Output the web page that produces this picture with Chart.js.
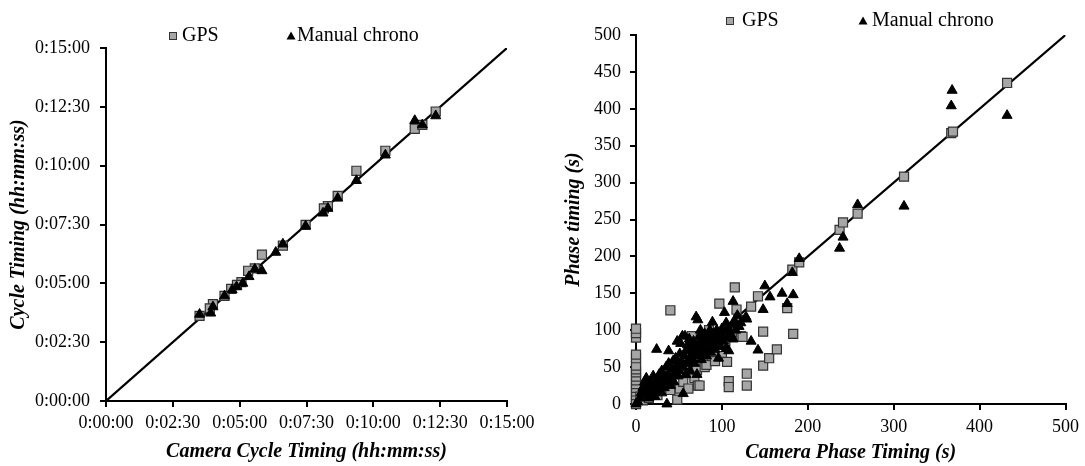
<!DOCTYPE html>
<html lang="en">
<head>
<meta charset="UTF-8">
<title>Cycle and phase timing</title>
<script src="https://cdn.jsdelivr.net/npm/chart.js"></script>
<style>
  body { margin: 0; background: #fff; }
  .box { position: absolute; top: 0; height: 466px; }
  #leftBox { left: 0; width: 540px; }
  #rightBox { left: 540px; width: 545px; }
</style>
</head>
<body>
<div class="box" id="leftBox"><canvas id="cycleChart"></canvas></div>
<div class="box" id="rightBox"><canvas id="phaseChart"></canvas></div>

<script>
// cycle timing, seconds [camera, measured]
const cycleGps = [[740,738],[693,694],[710,704],[627,638],[562,587],[520,523],[498,497],[489,491],
  [448,449],[397,396],[350,373],[334,338],[319,332],[304,303],[294,296],[281,286],[266,268],
  [240,247],[233,236],[210,217]];
const cycleChrono = [[740,727],[693,715],[710,704],[627,627],[562,562],[520,517],[498,491],[487,479],
  [448,446],[397,400],[381,379],[350,332],[334,336],[321,317],[307,300],[293,291],[283,283],
  [266,268],[240,240],[235,224],[210,221]];
const cycleTicks = [0, 150, 300, 450, 600, 750, 900];

// phase timing, seconds [camera, measured]
const phaseGps = [[0,0],[0,3],[0,6],[0,12],[0,17],[0,22],[0,27],[0,32],[0,37],[0,43],[0,47],[0,52],
  [0,62],[0,67],[0,90],[0,96],[0,102],[5,10],[8,5],[12,15],[15,8],[20,25],[25,12],[30,35],[35,20],
  [40,127],[40,19],[45,40],[48,6],[49,44],[51,21],[55,30],[58,52],[61,42],[61,21],[65,92],[68,35],
  [71,46],[72,25],[74,25],[75,60],[78,85],[80,50],[82,53],[85,100],[88,65],[90,70],[92,58],[95,80],
  [97,136],[98,88],[100,65],[104,85],[106,57],[108,31],[108,23],[110,101],[112,92],[115,158],
  [117,128],[119,114],[122,92],[124,91],[129,41],[129,25],[134,132],[142,146],[148,98],[148,52],
  [155,62],[164,74],[176,130],[182,182],[183,95],[190,192],[237,236],[241,246],[258,258],[312,308],
  [367,367],[369,369],[432,435]];
const phaseChrono = [[0,0],[2,3],[5,8],[6,15],[8,22],[10,18],[10,30],[12,12],[12,35],[14,25],[15,8],
  [16,20],[18,30],[18,14],[20,38],[20,22],[22,10],[22,28],[24,74],[25,34],[26,18],[27,40],[28,26],
  [30,45],[30,15],[32,35],[33,22],[35,50],[35,30],[36,0],[37,40],[38,72],[38,55],[40,25],[40,35],
  [42,48],[43,58],[44,30],[45,42],[46,62],[48,85],[48,52],[49,38],[50,45],[51,68],[52,82],[53,58],
  [54,92],[55,50],[55,14],[56,65],[57,92],[58,72],[58,40],[60,55],[60,80],[62,62],[62,88],[63,45],
  [64,72],[65,78],[66,60],[67,85],[68,55],[68,68],[70,118],[70,75],[71,40],[72,114],[72,65],[73,82],
  [74,92],[75,70],[75,100],[76,60],[78,78],[78,88],[80,72],[80,95],[82,65],[82,84],[84,90],[85,76],
  [86,100],[87,70],[88,86],[89,111],[90,80],[90,95],[92,74],[93,90],[94,100],[95,85],[96,62],[97,95],
  [98,78],[100,92],[100,102],[102,85],[103,124],[104,98],[105,75],[105,110],[107,90],[108,72],
  [108,102],[110,95],[112,108],[113,139],[113,88],[115,112],[116,100],[118,120],[120,105],[122,110],
  [128,118],[129,115],[134,85],[142,73],[148,128],[150,160],[156,145],[170,150],[176,136],[183,148],
  [182,178],[190,197],[237,211],[241,226],[258,270],[312,268],[367,404],[368,425],[432,391]];
const phaseXTicks = [0, 100, 200, 300, 400, 500];
const phaseYTicks = [0, 50, 100, 150, 200, 250, 300, 350, 400, 450, 500];

const gpsFill = '#a6a6a6';
const serif = "'Liberation Serif', 'Times New Roman', serif";
Chart.defaults.font.family = serif;
Chart.defaults.color = '#000';

function hms(v) {
  const m = Math.floor(v / 60), s = v % 60;
  return '0:' + String(m).padStart(2, '0') + ':' + String(s).padStart(2, '0');
}
const pts = arr => arr.map(p => ({ x: p[0], y: p[1] }));

// legend drawn by hand so it can sit where the original has it
const manualLegend = {
  id: 'manualLegend',
  afterDraw(chart, args, o) {
    const ctx = chart.ctx;
    ctx.save();
    ctx.fillStyle = gpsFill;
    ctx.strokeStyle = '#333';
    ctx.lineWidth = 1;
    ctx.fillRect(o.sq - 3.5, o.y - 3.5, 7, 7);
    ctx.strokeRect(o.sq - 3.5, o.y - 3.5, 7, 7);
    ctx.fillStyle = '#000';
    ctx.beginPath();
    ctx.moveTo(o.tri, o.y - 4.5);
    ctx.lineTo(o.tri + 4.5, o.y + 3.5);
    ctx.lineTo(o.tri - 4.5, o.y + 3.5);
    ctx.closePath();
    ctx.fill();
    ctx.font = '20px ' + serif;
    ctx.textBaseline = 'middle';
    ctx.fillText('GPS', o.sqText, o.y);
    ctx.fillText('Manual chrono', o.triText, o.y);
    ctx.restore();
  }
};

function axis(min, max, ticks, title, opts) {
  return {
    type: 'linear', min: min, max: max,
    afterBuildTicks: s => { s.ticks = ticks.map(v => ({ value: v })); },
    afterFit: s => { if (opts.w) s.width = opts.w; if (opts.h) s.height = opts.h; },
    border: { display: true, color: '#000', width: 2 },
    grid: { drawOnChartArea: false, drawTicks: true, tickLength: 6, color: '#000', lineWidth: 2 },
    ticks: { font: { size: 18 }, padding: opts.tp, callback: opts.fmt || (v => v) },
    title: { display: true, text: title, font: { size: 20, style: 'italic', weight: 'bold' },
      padding: opts.titlePad }
  };
}

function makeChart(id, gps, chrono, lineMax, scales, padding, legend) {
  new Chart(document.getElementById(id), {
    type: 'scatter',
    data: {
      datasets: [
        { label: 'Manual chrono', data: pts(chrono), pointStyle: 'triangle', pointRadius: 5.8,
          backgroundColor: '#000', borderColor: '#000', borderWidth: 1, clip: false, order: 1 },
        { label: 'GPS', data: pts(gps), pointStyle: 'rect', pointRadius: 6.4,
          backgroundColor: gpsFill, borderColor: '#333', borderWidth: 1.2, clip: false, order: 2 },
        { label: 'y = x', data: [{ x: 0, y: 0 }, { x: lineMax, y: lineMax }], showLine: true,
          pointRadius: 0, borderColor: '#000', borderWidth: 2.2, order: 3 }
      ]
    },
    options: {
      responsive: true, maintainAspectRatio: false, animation: false,
      layout: { padding: padding },
      plugins: { legend: { display: false }, tooltip: { enabled: false }, manualLegend: legend },
      scales: scales
    },
    plugins: [manualLegend]
  });
}

makeChart('cycleChart', cycleGps, cycleChrono, 900, {
  x: axis(0, 900, cycleTicks, 'Camera Cycle Timing (hh:mm:ss)', { h: 65, tp: 5, fmt: hms, titlePad: { top: 0, bottom: 2 } }),
  y: axis(0, 900, cycleTicks, 'Cycle Timing (hh:mm:ss)', { w: 106, tp: 10, fmt: hms, titlePad: { top: 7, bottom: 0 } })
}, { left: 0, top: 48, right: 33, bottom: 0 },
  { y: 36, sq: 173, sqText: 182, tri: 291, triText: 297 });

makeChart('phaseChart', phaseGps, phaseChrono, 500, {
  x: axis(0, 500, phaseXTicks, 'Camera Phase Timing (s)', { h: 62, tp: 6, titlePad: { top: 0, bottom: 1 } }),
  y: axis(0, 500, phaseYTicks, 'Phase timing (s)', { w: 96, tp: 9, titlePad: { top: 22, bottom: 0 } })
}, { left: 0, top: 35, right: 15, bottom: 0 },
  { y: 21, sq: 190, sqText: 202, tri: 323, triText: 332 });
</script>
</body>
</html>
